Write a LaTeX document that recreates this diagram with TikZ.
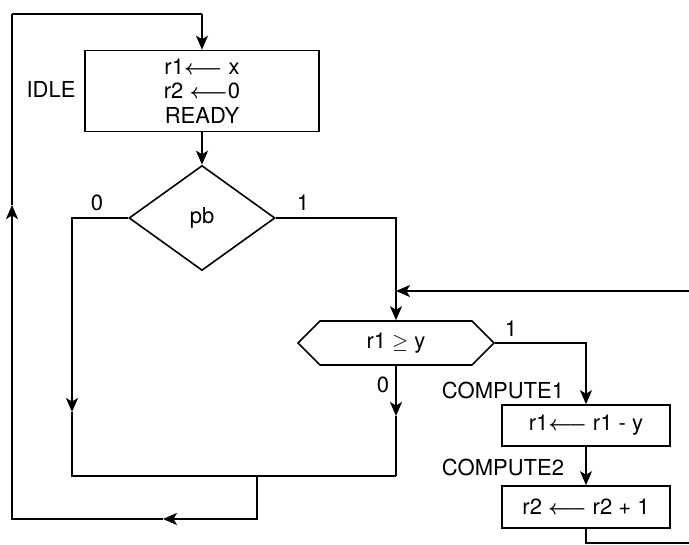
\documentclass[tikz,border=0pt]{standalone}
\usepackage{fontspec}
\setmainfont{TeX Gyre Heros}
\usetikzlibrary{arrows.meta,shapes.geometric,shapes.symbols}
\newcommand{\asgn}{{\boldmath$\longleftarrow$}}
\begin{document}
\begin{tikzpicture}[x=1pt,y=-1pt,
  line width=1.6pt,
  >={Stealth[length=14pt,width=12pt,inset=3.5pt]},
  every node/.style={font=\fontsize{22}{23}\selectfont},
  statebox/.style={draw,rectangle,inner sep=0pt,align=center},
  lbl/.style={inner sep=0pt}
]
\useasboundingbox (0,0) rectangle (689,545);

% nodes
\node[statebox,minimum width=234pt,minimum height=81pt] (idle) at (202,91)
  {r1\asgn\ x\\[1.5pt]r2 \asgn0\\[1.5pt]READY};
\node[draw,diamond,inner sep=0pt,minimum width=146pt,minimum height=105pt] (pb) at (202,218) {pb};
\node[draw,signal,signal to=west and east,signal pointer angle=90,inner sep=0pt,
  minimum width=196pt,minimum height=44pt] (cmp) at (396,343) {r1 $\geq$ y};
\node[statebox,minimum width=168pt,minimum height=41pt] (c1) at (586,425.5) {r1\asgn\ r1 - y};
\node[statebox,minimum width=168pt,minimum height=42pt] (c2) at (586,507) {r2 \asgn\ r2 + 1};

% labels
\node[lbl] (lidle) at (51,89) {IDLE};
\node[lbl] (l0a) at (97,203) {0};
\node[lbl] (l1a) at (303,203) {1};
\node[lbl] (l1b) at (511,329) {1};
\node[lbl] (l0b) at (383,385) {0};
\node[lbl] (lc1) at (503,390) {COMPUTE1};
\node[lbl] (lc2) at (503,467) {COMPUTE2};

% coordinates
\coordinate (L0) at (72,218);
\coordinate (Lm) at (72,412);
\coordinate (Lb) at (72,476);
\coordinate (R1) at (396,218);
\coordinate (fb) at (396,291);
\coordinate (fbR) at (689,291);
\coordinate (Rm) at (396,416);
\coordinate (Rb) at (396,476);
\coordinate (M) at (257,476);
\coordinate (B) at (257,519);
\coordinate (Bm) at (163,519);
\coordinate (BL) at (12,519);
\coordinate (Um) at (12,205);
\coordinate (TL) at (12,14);
\coordinate (TR) at (202,14);
\coordinate (C1) at (586,343);
\coordinate (E1) at (586,543);
\coordinate (E2) at (689,543);

% connectors
\draw[->] (TR) -- (idle.north);
\draw (TL) -- (TR);
\draw[->] (idle.south) -- (pb.north);
\draw[->] (pb.west) -- (L0) -- (Lm);
\draw (Lm) -- (Lb) -- (Rb);
\draw[->] (pb.east) -- (R1) -- (cmp.north);
\draw[->] (fbR) -- (fb);
\draw[->] (cmp.south) -- (Rm);
\draw (Rm) -- (Rb);
\draw[->] (M) -- (B) -- (Bm);
\draw[->] (Bm) -- (BL) -- (Um);
\draw (Um) -- (TL);
\draw[->] (cmp.east) -- (C1) -- (c1.north);
\draw[->] (c1.south) -- (c2.north);
\draw (c2.south) -- (E1) -- (E2);
\end{tikzpicture}
\end{document}
